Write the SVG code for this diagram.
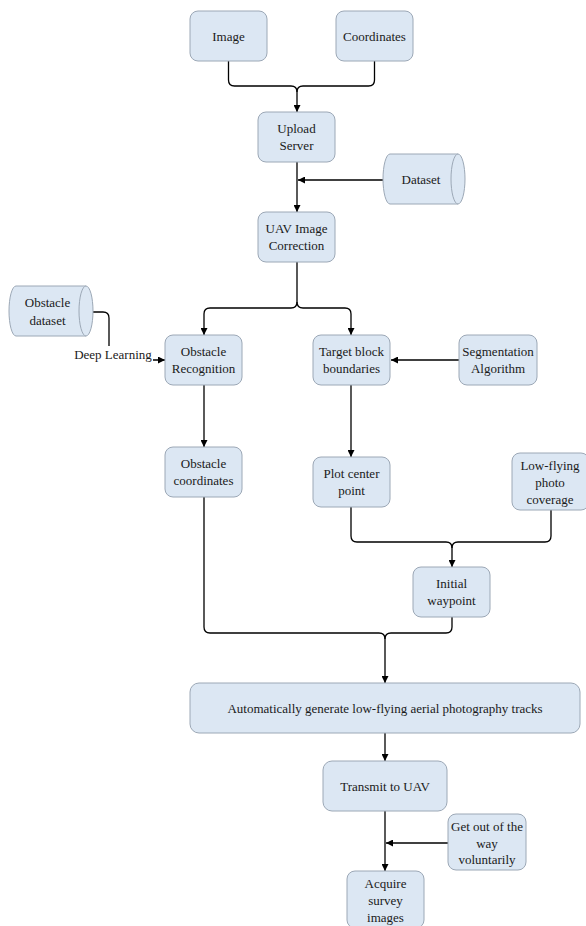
<svg xmlns="http://www.w3.org/2000/svg" width="586" height="926" viewBox="0 0 586 926">
<defs>
<style>
.box{fill:#dce7f3;stroke:#9ca8b6;stroke-width:1}
.t{font-family:"Liberation Serif","Times New Roman",serif;font-size:13px;fill:#1a1a1a;text-anchor:middle;dominant-baseline:central}
.c{fill:none;stroke:#000;stroke-width:1.3}
</style>
<marker id="ah" viewBox="0 0 10 10" refX="10" refY="5" markerWidth="7" markerHeight="7" markerUnits="userSpaceOnUse" orient="auto">
<path d="M0,0 L10,5 L0,10 Z" fill="#000"/>
</marker>
</defs>
<rect width="586" height="926" fill="#fff"/>

<g id="connectors">
<path class="c" d="M228.5,61 V80 Q228.5,86 234.5,86 H291 Q297,86 297,92 V112" marker-end="url(#ah)"/>
<path class="c" d="M374.5,61 V80 Q374.5,86 368.5,86 H303 Q297,86 297,92"/>
<path class="c" d="M297,162 V212" marker-end="url(#ah)"/>
<path class="c" d="M383,180 H298" marker-end="url(#ah)"/>
<path class="c" d="M297,262 V302 Q297,308 291,308 H210 Q204,308 204,314 V335" marker-end="url(#ah)"/>
<path class="c" d="M297,302 Q297,308 303,308 H345 Q351,308 351,314 V335" marker-end="url(#ah)"/>
<path class="c" d="M93,312 H103 Q109,312 109,318 V354 Q109,360 115,360 H165" marker-end="url(#ah)"/>
<path class="c" d="M204,385 V447" marker-end="url(#ah)"/>
<path class="c" d="M459,360 H391" marker-end="url(#ah)"/>
<path class="c" d="M351,385 V457" marker-end="url(#ah)"/>
<path class="c" d="M351,507 V536 Q351,542 357,542 H446 Q452,542 452,548 V567" marker-end="url(#ah)"/>
<path class="c" d="M551,510 V536 Q551,542 545,542 H458 Q452,542 452,548"/>
<path class="c" d="M204,497 V627 Q204,633 210,633 H379 Q385,633 385,639 V683" marker-end="url(#ah)"/>
<path class="c" d="M452,617 V627 Q452,633 446,633 H391 Q385,633 385,639"/>
<path class="c" d="M385,733 V761" marker-end="url(#ah)"/>
<path class="c" d="M385,811 V871" marker-end="url(#ah)"/>
<path class="c" d="M448,843 H386" marker-end="url(#ah)"/>
<rect x="73" y="346" width="80" height="17" fill="#fff"/>
<text class="t" x="113" y="354">Deep Learning</text>
</g>

<g id="n-image"><rect class="box" x="190" y="11" width="77" height="50" rx="8"/><text class="t" x="228.5" y="36">Image</text></g>
<g id="n-coordinates"><rect class="box" x="336" y="11" width="77" height="50" rx="8"/><text class="t" x="374.5" y="36">Coordinates</text></g>
<g id="n-upload"><rect class="box" x="258" y="112" width="77" height="50" rx="8"/><text class="t" x="296.5" y="128.5">Upload</text><text class="t" x="296.5" y="145.5">Server</text></g>
<g id="n-dataset"><path class="box" d="M390,154 H458 A7,25 0 0 1 458,204 H390 A7,25 0 0 1 390,154 Z"/><path class="box" d="M458,154 A7,25 0 0 0 458,204" fill="none"/><text class="t" x="421" y="179">Dataset</text></g>
<g id="n-uav"><rect class="box" x="258" y="212" width="77" height="50" rx="8"/><text class="t" x="296.5" y="228.5">UAV Image</text><text class="t" x="296.5" y="245.5">Correction</text></g>
<g id="n-obsdata"><path class="box" d="M16,286 H86 A7,25 0 0 1 86,336 H16 A7,25 0 0 1 16,286 Z"/><path class="box" d="M86,286 A7,25 0 0 0 86,336" fill="none"/><text class="t" x="47.5" y="302.5">Obstacle</text><text class="t" x="47.5" y="320">dataset</text></g>
<g id="n-obsrec"><rect class="box" x="165" y="335" width="77" height="50" rx="8"/><text class="t" x="203.5" y="351.5">Obstacle</text><text class="t" x="203.5" y="368.5">Recognition</text></g>
<g id="n-target"><rect class="box" x="313" y="335" width="77" height="50" rx="8"/><text class="t" x="351.5" y="351.5">Target block</text><text class="t" x="351.5" y="368.5">boundaries</text></g>
<g id="n-seg"><rect class="box" x="459" y="335" width="78" height="50" rx="8"/><text class="t" x="498" y="351.5">Segmentation</text><text class="t" x="498" y="368.5">Algorithm</text></g>
<g id="n-obscoord"><rect class="box" x="165" y="447" width="77" height="50" rx="8"/><text class="t" x="203.5" y="463.5">Obstacle</text><text class="t" x="203.5" y="480.5">coordinates</text></g>
<g id="n-plot"><rect class="box" x="313" y="457" width="77" height="50" rx="8"/><text class="t" x="351.5" y="473.5">Plot center</text><text class="t" x="351.5" y="490.5">point</text></g>
<g id="n-lowfly"><rect class="box" x="512" y="453" width="77" height="57" rx="8"/><text class="t" x="550" y="465">Low-flying</text><text class="t" x="550" y="482">photo</text><text class="t" x="550" y="499">coverage</text></g>
<g id="n-initial"><rect class="box" x="413" y="567" width="77" height="50" rx="8"/><text class="t" x="451.5" y="583.5">Initial</text><text class="t" x="451.5" y="600.5">waypoint</text></g>
<g id="n-auto"><rect class="box" x="190" y="683" width="390" height="50" rx="9"/><text class="t" x="385" y="708">Automatically generate low-flying aerial photography tracks</text></g>
<g id="n-transmit"><rect class="box" x="323" y="761" width="124" height="50" rx="9"/><text class="t" x="385" y="786">Transmit to UAV</text></g>
<g id="n-getout"><rect class="box" x="448" y="814" width="78" height="56" rx="8"/><text class="t" x="487" y="826.5">Get out of the</text><text class="t" x="487" y="843">way</text><text class="t" x="487" y="859.5">voluntarily</text></g>
<g id="n-acquire"><rect class="box" x="347" y="871" width="77" height="57" rx="8"/><text class="t" x="385.5" y="883">Acquire</text><text class="t" x="385.5" y="900">survey</text><text class="t" x="385.5" y="917">images</text></g>
</svg>
